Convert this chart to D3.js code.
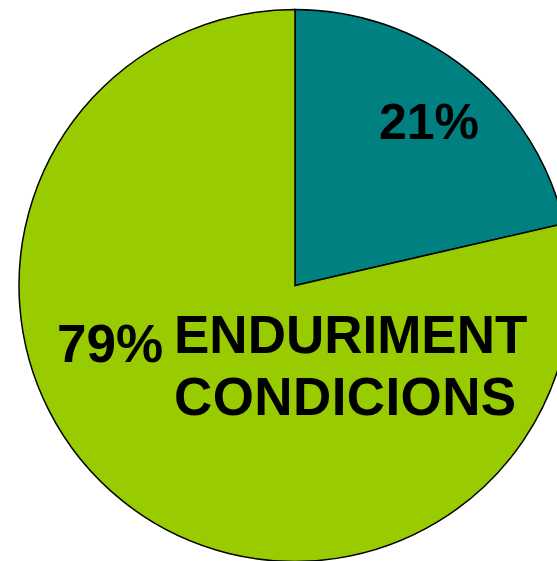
<!DOCTYPE html>
<html>
<head>
<meta charset="utf-8">
<script src="https://cdn.jsdelivr.net/npm/d3@7"></script>
<style>
  html, body { margin: 0; padding: 0; background: #fff; }
  svg { display: block; }
</style>
</head>
<body>
<svg id="chart" width="557" height="561"></svg>
<script>
// Data
const categories = ["", "ENDURIMENT CONDICIONS"];
const values = [21.4, 78.6];
const percentLabels = ["21%", "79%"];
const colors = ["#008080", "#99CC00"];

const svg = d3.select("#chart");
const cx = 295, cy = 285.5, r = 276;

const data = categories.map((c, i) => ({ cat: c, value: values[i], pct: percentLabels[i], color: colors[i] }));

const pie = d3.pie().sort(null).value(d => d.value).startAngle(0).endAngle(2 * Math.PI);
const arc = d3.arc().innerRadius(0).outerRadius(r);

const g = svg.append("g").attr("transform", `translate(${cx},${cy})`);

g.selectAll("path")
  .data(pie(data))
  .join("path")
  .attr("d", arc)
  .attr("fill", d => d.data.color)
  .attr("stroke", "#000")
  .attr("stroke-width", 1.5)
  .attr("stroke-linejoin", "miter");

const font = "'Liberation Sans', Arial, Helvetica, sans-serif";

// 21% label
svg.append("text")
  .attr("x", 379).attr("y", 139)
  .attr("font-family", font).attr("font-weight", "bold")
  .attr("font-size", 50)
  .attr("fill", "#000")
  .text(data[0].pct);

// 79% label
svg.append("text")
  .attr("x", 57).attr("y", 361.5)
  .attr("font-family", font).attr("font-weight", "bold")
  .attr("font-size", 53)
  .attr("fill", "#000")
  .text(data[1].pct);

// Category name (two lines)
const nameLines = data[1].cat.split(" ");
const nameText = svg.append("text")
  .attr("font-family", font).attr("font-weight", "bold")
  .attr("font-size", 53)
  .attr("fill", "#000");
nameLines.forEach((t, i) => {
  nameText.append("tspan")
    .attr("x", 174)
    .attr("y", 352.5 + i * 62.5)
    .attr("letter-spacing", i === 1 ? 0.4 : 0)
    .text(t);
});
</script>
</body>
</html>
